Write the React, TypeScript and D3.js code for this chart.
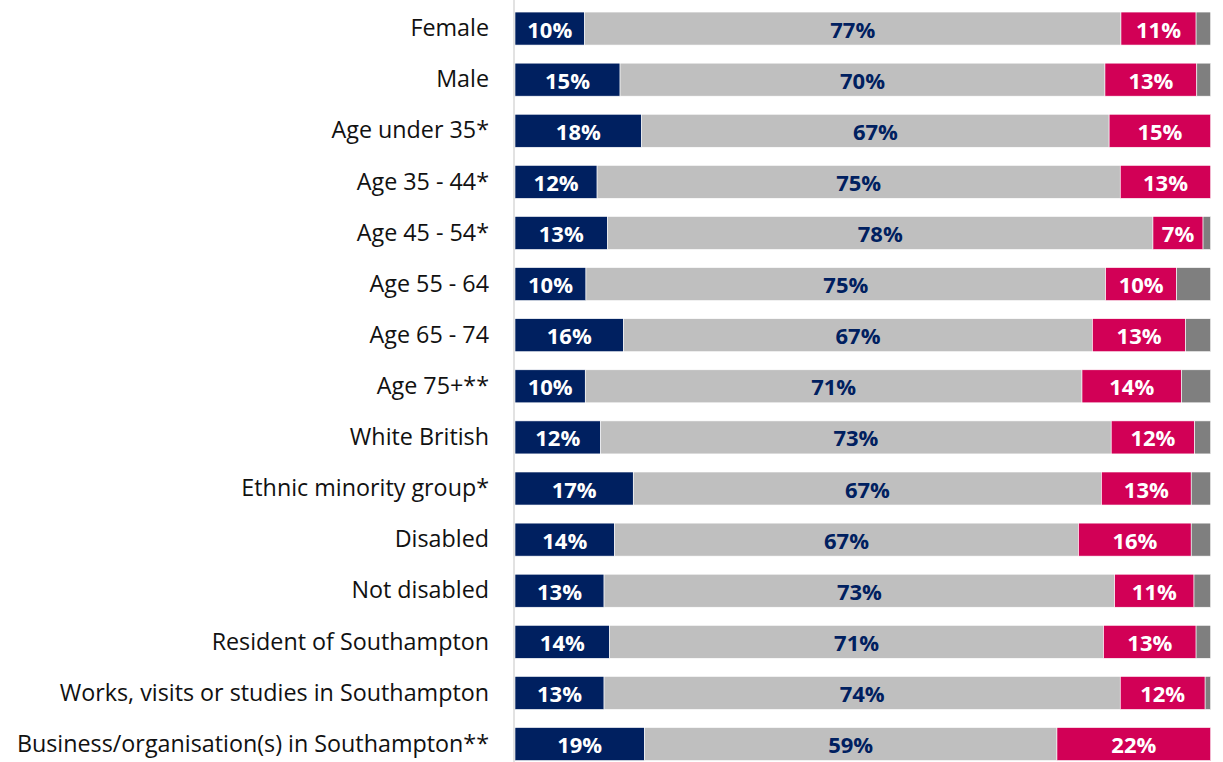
import React from "react";
import * as d3 from "d3";

const categories = [
  "Female",
  "Male",
  "Age under 35*",
  "Age 35 - 44*",
  "Age 45 - 54*",
  "Age 55 - 64",
  "Age 65 - 74",
  "Age 75+**",
  "White British",
  "Ethnic minority group*",
  "Disabled",
  "Not disabled",
  "Resident of Southampton",
  "Works, visits or studies in Southampton",
  "Business/organisation(s) in Southampton**",
];

const seriesA = [10.0, 15.1, 18.2, 11.8, 13.3, 10.2, 15.6, 10.1, 12.3, 17.0, 14.3, 12.8, 13.6, 12.8, 18.6];
const seriesB = [77.1, 69.7, 67.2, 75.2, 78.4, 74.7, 67.4, 71.4, 73.4, 67.3, 66.7, 73.4, 71.0, 74.2, 59.3];
const seriesC = [10.8, 13.2, 14.6, 13.0, 7.2, 10.2, 13.4, 14.3, 12.0, 12.9, 16.2, 11.4, 13.3, 12.2, 22.1];
const seriesD = [2.1, 2.0, 0.0, 0.0, 1.1, 4.9, 3.6, 4.2, 2.3, 2.8, 2.8, 2.4, 2.1, 0.8, 0.0];

const keys = ["a", "b", "c", "d"];
const colors: Record<string, string> = { a: "#002060", b: "#bfbfbf", c: "#d20056", d: "#7f7f7f" };
const labelColors: Record<string, string> = { a: "#ffffff", b: "#002060", c: "#ffffff" };

const W = 1223;
const H = 762;

export default function App() {
  const rows = categories.map((cat, i) => ({
    cat,
    a: seriesA[i],
    b: seriesB[i],
    c: seriesC[i],
    d: seriesD[i],
  }));
  const stacked = d3.stack<any>().keys(keys)(rows);

  const x = d3.scaleLinear().domain([0, 100]).range([515, 1210.7]);
  const y = d3
    .scaleBand<string>()
    .domain(categories)
    .range([3, 769.6])
    .paddingInner(0.354)
    .paddingOuter(0.177);
  const fmt = (v: number) => `${Math.round(v)}%`;

  return (
    <svg
      width={W}
      height={H}
      style={{ position: "absolute", left: 0, top: 0, display: "block" }}
      fontFamily="'Open Sans', sans-serif"
    >
      <rect width={W} height={H} fill="#ffffff" />
      {stacked.map((s) => (
        <g key={s.key}>
          {s.map((d, i) => {
            const x0 = x(d[0]);
            const x1 = x(d[1]);
            const yy = y(categories[i])!;
            const bh = y.bandwidth();
            const v = d[1] - d[0];
            return (
              <g key={i}>
                {v > 0 && (
                  <rect
                    x={x0}
                    y={yy}
                    width={x1 - x0}
                    height={bh}
                    fill={colors[s.key]}
                    stroke="#ffffff"
                    strokeWidth={0.6}
                  />
                )}
                {s.key !== "d" && v > 0 && (
                  <text
                    x={(x0 + x1) / 2}
                    y={yy + bh / 2}
                    dy="0.41em"
                    textAnchor="middle"
                    fontWeight={700}
                    fontSize={22}
                    fill={labelColors[s.key]}
                  >
                    {fmt(v)}
                  </text>
                )}
              </g>
            );
          })}
        </g>
      ))}
      <line x1={514} x2={514} y1={0} y2={H} stroke="#d9d9d9" strokeWidth={1.5} />
      {categories.map((c) => (
        <text
          key={c}
          x={489}
          y={y(c)! + y.bandwidth() / 2}
          dy="0.33em"
          textAnchor="end"
          fontSize={23.3}
          fill="#111111"
        >
          {c}
        </text>
      ))}
    </svg>
  );
}
